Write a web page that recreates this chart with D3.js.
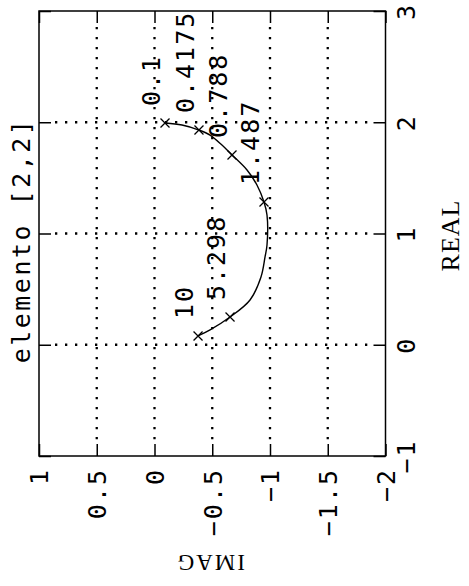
<!DOCTYPE html>
<html>
<head>
<meta charset="utf-8">
<script src="https://cdnjs.cloudflare.com/ajax/libs/d3/7.8.5/d3.min.js"></script>
<style>
body { margin: 0; background: white; }
</style>
</head>
<body>
<div id="chart"></div>
<script>
"use strict";
// nyquist plot, page turned 90 degrees: REAL runs up, IMAG runs left to right (1 .. -2)
var realTicks = [-1, 0, 1, 2, 3];
var imagTicks = [1, 0.5, 0, -0.5, -1, -1.5, -2];
var curveReal = [1.993, 1.975, 1.930, 1.885, 1.795, 1.706, 1.571, 1.436, 1.283, 1.166, 0.897, 0.789, 0.609, 0.402, 0.249, 0.133, 0.079];
var curveImag = [-0.091, -0.238, -0.385, -0.481, -0.584, -0.671, -0.801, -0.887, -0.948, -0.974, -0.974, -0.957, -0.922, -0.827, -0.654, -0.481, -0.377];
var markLabels = ["0.1", "0.4175", "0.788", "1.487", "5.298", "10"];
var markReal = [1.993, 1.930, 1.706, 1.283, 0.249, 0.079];
var markImag = [-0.091, -0.385, -0.671, -0.948, -0.654, -0.377];
var TITLE = "elemento [2,2]";
var REAL_LABEL = "REAL";
var IMAG_LABEL = "IMAG";

var MONO = "'DejaVu Sans Mono', monospace";
var SERIF = "'Liberation Serif', serif";

var width = 469, height = 586;
var box = { top: 11, right: 385.5, bottom: 456, left: 39 };
var tickLen = 12;

var x = d3.scaleLinear().domain([1, -2]).range([box.left, box.right]);
var y = d3.scaleLinear().domain([-1, 3]).range([box.bottom, box.top]);

var fmt = function (d) {
    return d < 0 ? "\u2212" + Math.abs(d) : String(d);
};

var svg = d3.select("#chart")
    .append("svg")
    .attr("width", width)
    .attr("height", height)
    .style("background", "white");

// dotted grid
var grid = svg.append("g")
    .attr("stroke", "black")
    .attr("stroke-width", 2.3)
    .attr("stroke-dasharray", "2.3 7.7");
grid.selectAll("line.v")
    .data(imagTicks.slice(1, -1))
    .enter()
    .append("line")
    .attr("x1", x).attr("x2", x)
    .attr("y1", box.top + tickLen + 4)
    .attr("y2", box.bottom - tickLen);
grid.selectAll("line.h")
    .data(realTicks.slice(1, -1))
    .enter()
    .append("line")
    .attr("y1", y).attr("y2", y)
    .attr("x1", box.left + tickLen + 4)
    .attr("x2", box.right - tickLen);

function styleAxis(g) {
    g.select(".domain").remove();
    g.selectAll("line").attr("stroke", "black").attr("stroke-width", 1.5);
    g.attr("font-family", MONO).attr("font-size", 25);
    g.selectAll("text").attr("fill", "black").style("letter-spacing", "2px");
}

var bottomAxis = svg.append("g")
    .attr("transform", "translate(0," + box.bottom + ")")
    .call(d3.axisBottom(x).tickValues(imagTicks).tickSize(-tickLen).tickFormat(fmt));
styleAxis(bottomAxis);
bottomAxis.selectAll("text")
    .attr("transform", "rotate(-90)")
    .attr("x", -12).attr("y", 0)
    .attr("dy", "0.35em")
    .attr("text-anchor", "end");

var rightAxis = svg.append("g")
    .attr("transform", "translate(" + box.right + ",0)")
    .call(d3.axisRight(y).tickValues(realTicks).tickSize(-tickLen).tickFormat(fmt));
styleAxis(rightAxis);
rightAxis.selectAll("text")
    .attr("transform", "rotate(-90)")
    .attr("x", 0).attr("y", 29)
    .attr("dy", 0)
    .attr("text-anchor", "middle");

var leftAxis = svg.append("g")
    .attr("transform", "translate(" + box.left + ",0)")
    .call(d3.axisLeft(y).tickValues(realTicks).tickSize(-tickLen).tickFormat(""));
styleAxis(leftAxis);

var topAxis = svg.append("g")
    .attr("transform", "translate(0," + box.top + ")")
    .call(d3.axisTop(x).tickValues(imagTicks).tickSize(-tickLen).tickFormat(""));
styleAxis(topAxis);

svg.append("rect")
    .attr("x", box.left).attr("y", box.top)
    .attr("width", box.right - box.left)
    .attr("height", box.bottom - box.top)
    .attr("fill", "none")
    .attr("stroke", "black")
    .attr("stroke-width", 1.5);

// curve
var line = d3.line()
    .x(function (i) { return x(curveImag[i]); })
    .y(function (i) { return y(curveReal[i]); })
    .curve(d3.curveCatmullRom);
svg.append("path")
    .datum(d3.range(curveReal.length))
    .attr("d", line)
    .attr("fill", "none")
    .attr("stroke", "black")
    .attr("stroke-width", 1.4);

var marks = svg.selectAll("g.mark")
    .data(d3.range(markLabels.length))
    .enter()
    .append("g")
    .attr("class", "mark")
    .attr("transform", function (i) {
        return "translate(" + x(markImag[i]) + "," + y(markReal[i]) + ")";
    });
marks.append("path")
    .attr("d", "M-4.5,-4.5L4.5,4.5M-4.5,4.5L4.5,-4.5")
    .attr("stroke", "black")
    .attr("stroke-width", 1.3);
marks.append("text")
    .attr("transform", "rotate(-90)")
    .attr("x", 17).attr("y", -14)
    .attr("dy", "0.35em")
    .attr("font-family", MONO)
    .attr("font-size", 25)
    .style("letter-spacing", "2px")
    .text(function (i) { return markLabels[i]; });

// titles
svg.append("text")
    .attr("transform", "translate(30," + ((box.top + box.bottom) / 2 + 7) + ") rotate(-90)")
    .attr("text-anchor", "middle")
    .attr("font-family", MONO)
    .attr("font-size", 25)
    .style("letter-spacing", "2.5px")
    .text(TITLE);

svg.append("text")
    .attr("transform", "translate(459," + ((box.top + box.bottom) / 2 + 2) + ") rotate(-90)")
    .attr("text-anchor", "middle")
    .attr("font-family", SERIF)
    .attr("font-size", 26)
    .style("letter-spacing", "1px")
    .text(REAL_LABEL);

svg.append("text")
    .attr("transform", "translate(" + ((box.left + box.right) / 2 - 2) + ",555) rotate(180)")
    .attr("text-anchor", "middle")
    .attr("font-family", SERIF)
    .attr("font-size", 23)
    .style("letter-spacing", "2px")
    .text(IMAG_LABEL);
</script>
</body>
</html>
